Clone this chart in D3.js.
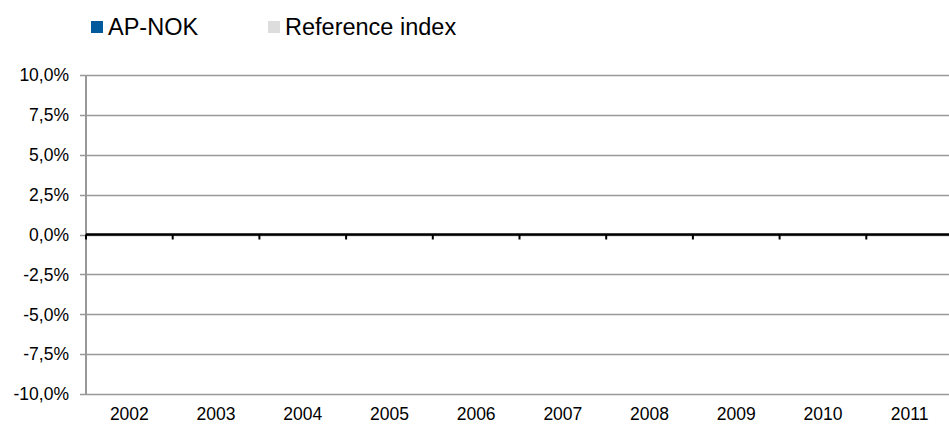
<!DOCTYPE html>
<html>
<head>
<meta charset="utf-8">
<script src="https://cdn.jsdelivr.net/npm/d3@7"></script>
<style>
  body { margin: 0; background: #fff; }
  text { font-family: "Liberation Sans", Arial, sans-serif; fill: #000; }
</style>
</head>
<body>
<svg id="chart" width="949" height="424"></svg>
<script>
// Chart data (both series read as zero from the picture: no visible bars)
const years = ['2002', '2003', '2004', '2005', '2006', '2007', '2008', '2009', '2010', '2011'];
const apNok = [0, 0, 0, 0, 0, 0, 0, 0, 0, 0];
const referenceIndex = [0, 0, 0, 0, 0, 0, 0, 0, 0, 0];
const yTicks = [-0.10, -0.075, -0.05, -0.025, 0, 0.025, 0.05, 0.075, 0.10];
const seriesNames = ['AP-NOK', 'Reference index'];
const seriesColors = ['#005a9c', '#dddddd'];

const svg = d3.select('#chart');
const margin = { top: 75, left: 86, bottom: 30 };
const plotW = 867;
const plotH = 319;

const x = d3.scaleBand().domain(years).range([margin.left, margin.left + plotW]).paddingInner(0.3).paddingOuter(0.15);
const xSub = d3.scaleBand().domain(seriesNames).range([0, x.bandwidth()]);
const y = d3.scaleLinear().domain([-0.10, 0.10]).range([margin.top + plotH, margin.top]);

const fmt = v => d3.format('.1%')(v).replace('.', ',').replace('−', '-');

// Gridlines + y ticks
svg.append('g')
  .selectAll('line')
  .data(yTicks)
  .enter()
  .append('line')
  .attr('x1', margin.left - 6)
  .attr('x2', 949)
  .attr('y1', d => Math.round(y(d)) + 0.5)
  .attr('y2', d => Math.round(y(d)) + 0.5)
  .attr('stroke', '#999')
  .attr('stroke-width', 1.5);

// Y labels
svg.append('g')
  .selectAll('text')
  .data(yTicks)
  .enter()
  .append('text')
  .attr('x', 69)
  .attr('y', d => y(d))
  .attr('dy', '0.36em')
  .attr('text-anchor', 'end')
  .style('font-size', '17.5px')
  .text(d => fmt(d));

// Left axis line
svg.append('line')
  .attr('x1', margin.left)
  .attr('x2', margin.left)
  .attr('y1', y(0.10))
  .attr('y2', y(-0.10) + 1)
  .attr('stroke', '#999')
  .attr('stroke-width', 2);

// Bars (zero height)
const groups = svg.append('g')
  .selectAll('g')
  .data(years)
  .enter()
  .append('g')
  .attr('transform', d => `translate(${x(d)},0)`);

groups.selectAll('rect')
  .data((d, i) => [apNok[i], referenceIndex[i]].map((v, j) => ({ v, s: seriesNames[j], c: seriesColors[j] })))
  .enter()
  .append('rect')
  .attr('x', d => xSub(d.s))
  .attr('width', xSub.bandwidth())
  .attr('y', d => y(Math.max(0, d.v)))
  .attr('height', d => Math.abs(y(d.v) - y(0)))
  .attr('fill', d => d.c);

// Zero line + category boundary ticks
const zeroY = y(0);
svg.append('line')
  .attr('x1', margin.left)
  .attr('x2', 949)
  .attr('y1', zeroY)
  .attr('y2', zeroY)
  .attr('stroke', '#000')
  .attr('stroke-width', 2.4);

const step = plotW / years.length;
svg.append('g')
  .selectAll('line')
  .data(d3.range(years.length + 1))
  .enter()
  .append('line')
  .attr('x1', i => margin.left + i * step)
  .attr('x2', i => margin.left + i * step)
  .attr('y1', zeroY)
  .attr('y2', zeroY + 5)
  .attr('stroke', '#000')
  .attr('stroke-width', 2);

// X labels
svg.append('g')
  .selectAll('text')
  .data(years)
  .enter()
  .append('text')
  .attr('x', d => x(d) + x.bandwidth() / 2)
  .attr('y', 420)
  .attr('text-anchor', 'middle')
  .style('font-size', '17.5px')
  .text(d => d);

// Legend
const legend = svg.append('g')
  .selectAll('g')
  .data(seriesNames)
  .enter()
  .append('g')
  .attr('transform', (d, i) => `translate(${91 + i * 177},21)`);

legend.append('rect')
  .attr('width', 12)
  .attr('height', 12)
  .attr('fill', (d, i) => seriesColors[i]);

legend.append('text')
  .attr('x', 17)
  .attr('y', 14)
  .style('font-size', '23.5px')
  .text(d => d);
</script>
</body>
</html>
